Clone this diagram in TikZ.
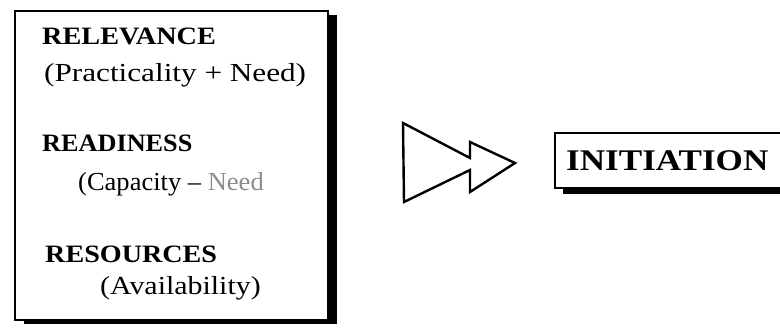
\documentclass[tikz,border=0pt]{standalone}
\usepackage{fontspec}
\setmainfont{Liberation Serif}
\usetikzlibrary{shadows}
% horizontal stretch for the typeset lines
\newcommand{\hstretch}[2]{\scalebox{#1}[1]{#2}}
\tikzset{
  framebox/.style={draw, line width=2pt, fill=white,
    drop shadow={shadow xshift=9pt, shadow yshift=-4pt, opacity=1, fill=black}},
  frameline/.style={draw, line width=2pt, line join=miter},
  head/.style={anchor=base west, inner sep=0pt, font=\fontsize{25}{30}\selectfont\bfseries},
  sub/.style={anchor=base west, inner sep=0pt, font=\fontsize{26}{31}\selectfont},
  bigarrow/.style={draw, line width=2.4pt, line join=miter},
}
\begin{document}
\begin{tikzpicture}[x=1pt, y=-1pt]
  \useasboundingbox (0,0) rectangle (780,331);
  % criteria panel
  \node[framebox, anchor=north west, minimum width=313pt, minimum height=309pt, inner sep=0pt] (panel) at (14,10) {};
  \node[head] (relevance) at (42,45) {\hstretch{1.13}{RELEVANCE}};
  \node[sub] (relsub) at (44,82) {\hstretch{1.2}{(Practicality + Need)}};
  \node[head] (readiness) at (42,152) {\hstretch{1.05}{READINESS}};
  \node[sub] (readsub) at (78,191) {\hstretch{1.02}{(Capacity -- \textcolor{black!45}{Need}}};
  \node[head] (resources) at (45,263) {\hstretch{1.125}{RESOURCES}};
  \node[sub] (ressub) at (100,295) {\hstretch{1.15}{(Availability)}};
  % outcome box, open towards the right margin
  \begin{scope}
    \clip (0,0) rectangle (780,331);
    \fill (563,188) rectangle (800,194);
    \draw[frameline] (800,133) -- (555,133) -- (555,188) -- (800,188);
  \end{scope}
  \node[anchor=base west, inner sep=0pt, font=\fontsize{30}{36}\selectfont\bfseries] (initiation) at (566,171) {\hstretch{1.17}{INITIATION}};
  % double-headed block arrow
  \draw[bigarrow] (403,123) -- (470,158) -- (470,142) -- (515,163) -- (470,192) -- (470,170) -- (404,202) -- cycle;
\end{tikzpicture}
\end{document}
